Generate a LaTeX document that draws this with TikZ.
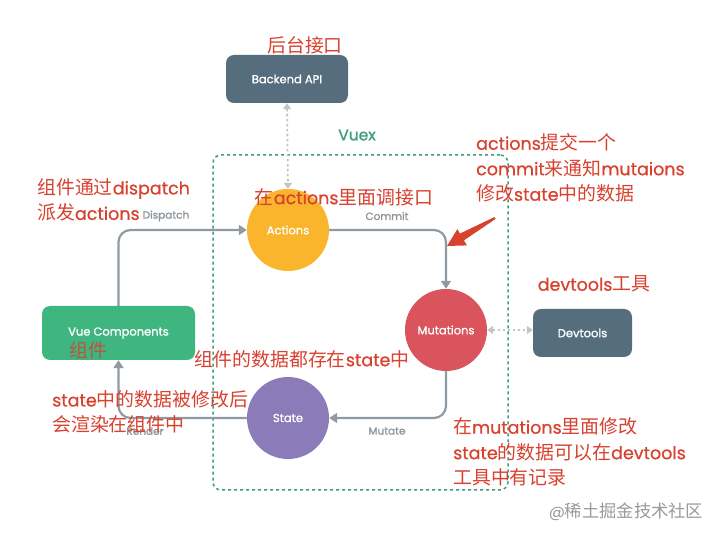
\documentclass[tikz,border=0pt]{standalone}
\usepackage{fontspec}
\setmainfont{Poppins}
\newfontfamily\cjk{Noto Sans CJK SC}[Scale=1.08]
\newfontfamily\nodefont{Poppins}[FakeBold=1.2]
\newfontfamily\notefont{Poppins}[FakeBold=0.6]
\newcommand\zh[1]{{\cjk #1}}
\usetikzlibrary{arrows.meta}
\definecolor{slate}{HTML}{566D7E}
\definecolor{vuegreen}{HTML}{3FB580}
\definecolor{actorange}{HTML}{F9B52C}
\definecolor{mutred}{HTML}{D9545C}
\definecolor{statepurple}{HTML}{8B7BB9}
\definecolor{arrowgray}{HTML}{8E9BA2}
\definecolor{dotgray}{HTML}{C4C4C4}
\definecolor{labelgray}{HTML}{8D959B}
\definecolor{vuexgreen}{HTML}{3E9C82}
\definecolor{notered}{HTML}{D9412F}
\definecolor{notebrown}{HTML}{B8563E}
\definecolor{wmgray}{HTML}{9A9A9A}
\begin{document}
\begin{tikzpicture}[x=1pt,y=-1pt,
  boxnode/.style={rectangle, rounded corners=8pt, text=white, inner sep=0pt, font=\nodefont\fontsize{11.5}{13}\selectfont},
  circnode/.style={circle, minimum size=82pt, inner sep=0pt, text=white, font=\nodefont\fontsize{11.5}{13}\selectfont},
  conn/.style={draw=arrowgray, line width=2.2pt, rounded corners=12pt, -{Triangle[length=8pt,width=10pt]}},
  dotconn/.style={draw=dotgray, line width=1.8pt, dash pattern=on 2.5pt off 2.5pt, {Triangle[length=6pt,width=8pt]}-{Triangle[length=6pt,width=8pt]}},
  glabel/.style={text=labelgray, font=\nodefont\fontsize{10.5}{12}\selectfont},
  note/.style={text=notered, align=left, inner sep=0pt, font=\notefont\fontsize{17.5}{25.5}\selectfont},
]
\useasboundingbox[fill=white] (0,0) rectangle (724,537);

% Vuex container
\node (vuexbox) [draw=vuexgreen, line width=1.5pt, dash pattern=on 3pt off 3pt, rounded corners=8pt, minimum width=295pt, minimum height=335pt] at (360.5,322.5) {};
\node (vuexlabel) [text=vuexgreen, font=\nodefont\fontsize{15.5}{17}\selectfont] at (357,135) {Vuex};

% nodes
\node (backend) [boxnode, fill=slate, minimum width=122pt, minimum height=48pt] at (287,79) {Backend API};
\node (devtools) [boxnode, fill=slate, minimum width=99pt, minimum height=48pt] at (582.5,333) {Devtools};
\node (vue) [boxnode, fill=vuegreen, minimum width=153pt, minimum height=54pt] at (118.5,333) {Vue Components};
\node (actions) [circnode, fill=actorange] at (288,230) {Actions};
\node (mut) [circnode, fill=mutred] at (446,330) {Mutations};
\node (state) [circnode, fill=statepurple] at (288,418) {State};

% connectors
\draw[conn] (vue.north) |- (actions.west);
\draw[conn] (actions.east) -| (mut.north);
\draw[conn] (mut.south) |- (state.east);
\draw[conn] (state.west) -| (vue.south);
\draw[dotconn] (backend.south) -- (actions.north);
\draw[dotconn] (mut.east) -- (devtools.west |- mut.east);

% connector labels
\node (ldispatch) [glabel] at (166,216) {Dispatch};
\node (lcommit) [glabel] at (387,216) {Commit};
\node (lmutate) [glabel] at (387,431) {Mutate};
\node (lrender) [glabel] at (145,431) {Render};

% red notes
\node (n1) [note] at (305,45) {\zh{后台接口}};
\node (n2) [note] at (344,197) {\zh{在}actions\zh{里面调接口}};
\node (n3) [note, anchor=west] at (476,168) {actions\zh{提交一个}\\commit\zh{来通知}mutaions\\\zh{修改}state\zh{中的数据}};
\node (n4) [note] at (594,284) {devtools\zh{工具}};
\node (n5) [note, anchor=west] at (37,200) {\zh{组件通过}dispatch\\\zh{派发}actions};
\node (n6) [note] at (302,359) {\zh{组件的数据都存在}state\zh{中}};
\node (n7) [note, anchor=west] at (52,412) {state\zh{中的数据被修改后}\\\zh{会渲染在组件中}};
\node (n8) [note, anchor=west] at (453,452) {\zh{在}mutations\zh{里面修改}\\state\zh{的数据可以在}devtools\\\zh{工具中有记录}};
\node (n9) [note, text=notebrown] at (88,350) {\zh{组件}};
\node (wm) [text=wmgray, font=\fontsize{16}{18}\selectfont] at (626,512) {@\zh{稀土掘金技术社区}};

% red pointer arrow
\fill[notered] (495.6,218.9) -- (463.9,240.4) -- (466.9,245.4) -- (447,246) -- (457.4,229.1) -- (459.9,233.6) -- (494.4,217.1) -- cycle;
\end{tikzpicture}
\end{document}
